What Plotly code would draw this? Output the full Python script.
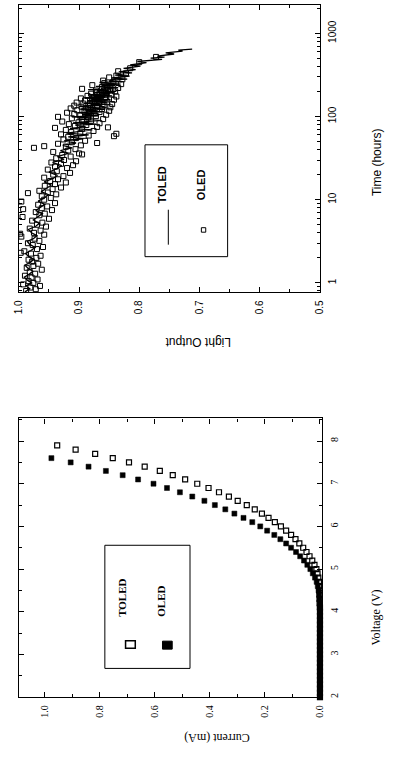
import plotly.graph_objects as go

W, H = 393, 759

# ---------------- Top panel: Light output vs time ----------------
toled_time = [
    0.78, 0.85, 0.92, 1.0, 1.08, 1.17, 1.27, 1.38, 1.5, 1.63,
    1.77, 1.92, 2.08, 2.26, 2.45, 2.66, 2.9, 3.15, 3.4, 3.7,
    4.0, 4.4, 4.8, 5.2, 5.7, 6.2, 6.8, 7.4, 8.1, 8.8,
    9.6, 10.5, 11.5, 12.5, 13.7, 15, 16.4, 18, 19.6, 21.4,
    23.4, 25.6, 28, 30.5, 33, 36, 39, 42, 45, 48,
    51, 54, 57, 60, 63, 66, 69, 72, 75, 78,
    81, 84, 87, 90, 93, 96, 99, 102, 105, 108,
    111, 114, 117, 120, 123, 126, 129, 132, 135, 138,
    141, 144, 147, 150, 153, 156, 159, 162, 165, 168,
    171, 174, 177, 180, 183, 186, 189, 192, 195, 198,
    201, 204, 207, 210, 214, 218, 222, 226, 230, 235,
    240, 245, 250, 256, 262, 268, 275, 282, 290, 298,
    306, 315, 324, 334, 344, 355, 366, 378, 390, 403,
    416, 430, 444, 458, 472, 487, 502, 517, 532, 548,
    564, 580, 596, 612, 628, 645,
]
toled_light = [
    0.990, 0.982, 0.988, 0.979, 0.986, 0.991, 0.983, 0.977, 0.985, 0.990,
    0.981, 0.975, 0.984, 0.989, 0.980, 0.973, 0.982, 0.986, 0.976, 0.970,
    0.979, 0.984, 0.972, 0.966, 0.976, 0.969, 0.961, 0.972, 0.965, 0.957,
    0.968, 0.958, 0.951, 0.963, 0.954, 0.946, 0.958, 0.943, 0.936, 0.950,
    0.938, 0.929, 0.944, 0.925, 0.936, 0.918, 0.931, 0.912, 0.927, 0.905,
    0.925, 0.893, 0.918, 0.884, 0.921, 0.897, 0.878, 0.915, 0.889, 0.906,
    0.872, 0.910, 0.884, 0.866, 0.903, 0.879, 0.912, 0.868, 0.895, 0.874,
    0.901, 0.862, 0.889, 0.870, 0.897, 0.858, 0.884, 0.900, 0.866, 0.881,
    0.855, 0.892, 0.868, 0.850, 0.886, 0.873, 0.848, 0.880, 0.862, 0.891,
    0.852, 0.876, 0.845, 0.869, 0.884, 0.849, 0.866, 0.841, 0.874, 0.857,
    0.838, 0.870, 0.853, 0.885, 0.846, 0.864, 0.835, 0.858, 0.872, 0.840,
    0.862, 0.831, 0.855, 0.866, 0.828, 0.850, 0.842, 0.820, 0.846, 0.833,
    0.816, 0.840, 0.826, 0.812, 0.834, 0.819, 0.806, 0.826, 0.810, 0.798,
    0.815, 0.795, 0.788, 0.803, 0.778, 0.762, 0.781, 0.758, 0.770, 0.748,
    0.742, 0.756, 0.733, 0.728, 0.735, 0.712,
]

oled_time = [
    0.80, 0.84, 0.88, 0.92, 0.96, 1.00, 1.05, 1.10, 1.16, 1.22,
    1.29, 1.36, 1.44, 1.52, 1.60, 1.70, 1.80, 1.90, 2.00, 2.12,
    2.25, 2.40, 2.55, 2.70, 2.85, 3.00, 3.20, 3.40, 3.60, 3.80,
    4.00, 4.25, 4.50, 4.75, 5.00, 5.30, 5.60, 5.90, 6.20, 6.50,
    6.80, 7.10, 7.50, 7.90, 8.30, 8.70, 9.10, 9.50, 10.0, 10.5,
    11.0, 11.6, 12.2, 12.8, 13.4, 14.0, 14.7, 15.4, 16.1, 16.8,
    17.6, 18.4, 19.2, 20.0, 21.0, 22.0, 23.0, 24.0, 25.0, 26.0,
    27, 28, 29, 30, 31.5, 33, 34.5, 36, 37.5, 39,
    40.5, 42, 43.5, 45, 47, 49, 51, 53, 55, 57,
    59, 61, 63, 65, 67, 69, 71, 73, 75, 77,
    79, 81, 83, 85, 87, 89, 91, 93, 95, 97,
    99, 101, 103, 105, 107, 109, 111, 113, 115, 117,
    119, 121, 123, 125, 127, 129, 131, 133, 135, 137,
    139, 141, 143, 145, 147, 150, 153, 156, 159, 162,
    165, 168, 171, 174, 177, 180, 184, 188, 192, 196,
    200, 205, 210, 215, 220, 226, 232, 238, 245, 252,
    260, 270, 280, 295, 310, 330, 350, 380, 450, 520,
    58, 62, 74, 48, 35, 44, 12, 7.7, 3.9, 2.3,
    110, 130, 150, 170, 190, 210, 230, 125, 145, 165,
]
oled_light = [
    0.988, 0.972, 0.981, 0.965, 0.993, 0.976, 0.984, 0.969, 0.979, 0.990,
    0.973, 0.982, 0.962, 0.987, 0.976, 0.968, 0.978, 0.984, 0.971, 0.964,
    0.980, 0.991, 0.970, 0.960, 0.977, 0.985, 0.966, 0.974, 0.996, 0.958,
    0.975, 0.964, 0.982, 0.955, 0.970, 0.961, 0.978, 0.950, 0.994, 0.966,
    0.957, 0.972, 0.945, 0.962, 0.953, 0.968, 0.940, 0.996, 0.958, 0.947,
    0.962, 0.938, 0.952, 0.966, 0.944, 0.930, 0.957, 0.940, 0.922, 0.948,
    0.935, 0.958, 0.926, 0.943, 0.915, 0.937, 0.952, 0.920, 0.940, 0.910,
    0.930, 0.946, 0.905, 0.925, 0.938, 0.914, 0.928, 0.900, 0.943, 0.918,
    0.906, 0.975, 0.922, 0.897, 0.935, 0.912, 0.890, 0.926, 0.905, 0.918,
    0.884, 0.930, 0.898, 0.913, 0.876, 0.922, 0.895, 0.940, 0.870, 0.907,
    0.888, 0.917, 0.866, 0.901, 0.928, 0.880, 0.895, 0.860, 0.912, 0.885,
    0.935, 0.872, 0.898, 0.855, 0.908, 0.883, 0.920, 0.866, 0.891, 0.850,
    0.903, 0.877, 0.862, 0.914, 0.885, 0.848, 0.896, 0.870, 0.908, 0.858,
    0.882, 0.845, 0.893, 0.867, 0.904, 0.853, 0.878, 0.890, 0.842, 0.868,
    0.897, 0.857, 0.875, 0.838, 0.886, 0.862, 0.846, 0.880, 0.855, 0.870,
    0.840, 0.872, 0.852, 0.895, 0.835, 0.862, 0.848, 0.878, 0.830, 0.858,
    0.843, 0.860, 0.828, 0.850, 0.838, 0.822, 0.835, 0.815, 0.800, 0.772,
    0.842, 0.838, 0.852, 0.870, 0.895, 0.958, 0.985, 0.993, 0.998, 0.997,
    0.876, 0.861, 0.873, 0.855, 0.866, 0.848, 0.853, 0.889, 0.882, 0.878,
]
assert len(toled_time) == len(toled_light)
assert len(oled_time) == len(oled_light)

light_ticks = [1.0, 0.9, 0.8, 0.7, 0.6, 0.5]
time_ticks = [1, 10, 100, 1000]

# ---------------- Bottom panel: Current vs voltage ----------------
v_toled = [
    2.0, 2.1, 2.2, 2.3, 2.4, 2.5, 2.6, 2.7, 2.8, 2.9,
    3.0, 3.1, 3.2, 3.3, 3.4, 3.5, 3.6, 3.7, 3.8, 3.9,
    4.0, 4.1, 4.2, 4.3, 4.4, 4.5, 4.6, 4.7, 4.8, 4.9,
    5.0, 5.1, 5.2, 5.3, 5.4, 5.5, 5.6, 5.7, 5.8, 5.9,
    6.0, 6.1, 6.2, 6.3, 6.4, 6.5, 6.6, 6.7, 6.8, 6.9,
    7.0, 7.1, 7.2, 7.3, 7.4, 7.5, 7.6, 7.7, 7.8, 7.9,
]
i_toled = [
    0.000, 0.000, 0.000, 0.000, 0.000, 0.000, 0.000, 0.000, 0.000, 0.000,
    0.000, 0.000, 0.000, 0.000, 0.000, 0.000, 0.000, 0.000, 0.000, 0.000,
    0.000, 0.000, 0.001, 0.001, 0.001, 0.002, 0.003, 0.004, 0.006, 0.009,
    0.013, 0.020, 0.028, 0.038, 0.049, 0.061, 0.075, 0.089, 0.105, 0.123,
    0.142, 0.164, 0.187, 0.211, 0.237, 0.266, 0.299, 0.331, 0.367, 0.405,
    0.446, 0.490, 0.535, 0.582, 0.637, 0.694, 0.753, 0.817, 0.888, 0.955,
]
v_oled = [
    2.0, 2.1, 2.2, 2.3, 2.4, 2.5, 2.6, 2.7, 2.8, 2.9,
    3.0, 3.1, 3.2, 3.3, 3.4, 3.5, 3.6, 3.7, 3.8, 3.9,
    4.0, 4.1, 4.2, 4.3, 4.4, 4.5, 4.6, 4.7, 4.8, 4.9,
    5.0, 5.1, 5.2, 5.3, 5.4, 5.5, 5.6, 5.7, 5.8, 5.9,
    6.0, 6.1, 6.2, 6.3, 6.4, 6.5, 6.6, 6.7, 6.8, 6.9,
    7.0, 7.1, 7.2, 7.3, 7.4, 7.5, 7.6,
]
i_oled = [
    0.000, 0.000, 0.000, 0.000, 0.000, 0.000, 0.000, 0.000, 0.000, 0.000,
    0.000, 0.000, 0.000, 0.000, 0.000, 0.000, 0.000, 0.000, 0.000, 0.000,
    0.000, 0.001, 0.001, 0.002, 0.003, 0.005, 0.008, 0.012, 0.018, 0.026,
    0.035, 0.046, 0.058, 0.072, 0.087, 0.105, 0.123, 0.144, 0.166, 0.192,
    0.217, 0.246, 0.278, 0.311, 0.344, 0.382, 0.420, 0.464, 0.509, 0.556,
    0.605, 0.661, 0.717, 0.778, 0.841, 0.906, 0.976,
]
assert len(v_toled) == len(i_toled)
assert len(v_oled) == len(i_oled)

current_ticks = [1.0, 0.8, 0.6, 0.4, 0.2, 0.0]
voltage_ticks = [2, 3, 4, 5, 6, 7, 8]

# ---------------- Figure ----------------
def px(x):
    return x / W

def py(y):
    return 1 - y / H

SANS = "Liberation Sans, Arial, sans-serif"
SERIF = "Liberation Serif, Times New Roman, serif"

fig = go.Figure()

# Top panel traces (rotated page: light output horizontal, time vertical)
fig.add_trace(go.Scatter(
    x=oled_light, y=oled_time, mode="markers", name="OLED",
    marker=dict(symbol="square-open", size=5, color="black", line=dict(width=1, color="black")),
    xaxis="x", yaxis="y", showlegend=False,
))
fig.add_trace(go.Scatter(
    x=toled_light, y=toled_time, mode="lines", name="TOLED",
    line=dict(color="black", width=1.3),
    xaxis="x", yaxis="y", showlegend=False,
))

# Bottom panel traces
fig.add_trace(go.Scatter(
    x=i_toled, y=v_toled, mode="markers", name="TOLED",
    marker=dict(symbol="square-open", size=5, color="black", line=dict(width=1.2, color="black")),
    xaxis="x2", yaxis="y2", showlegend=False, cliponaxis=False,
))
fig.add_trace(go.Scatter(
    x=i_oled, y=v_oled, mode="markers", name="OLED",
    marker=dict(symbol="square", size=5, color="black", line=dict(width=0.5, color="black")),
    xaxis="x2", yaxis="y2", showlegend=False, cliponaxis=False,
))

axis_common = dict(
    showline=True, linecolor="black", linewidth=1.3, mirror="ticks",
    ticks="inside", ticklen=5, tickwidth=1, tickcolor="black",
    showgrid=False, zeroline=False, tickangle=-90,
)

fig.update_layout(
    width=W, height=H,
    margin=dict(l=0, r=0, t=0, b=0),
    paper_bgcolor="white", plot_bgcolor="white",
    showlegend=False,
    xaxis=dict(
        **axis_common,
        domain=[px(13.3), px(322.7)], anchor="y",
        range=[1.0, 0.5], tickvals=light_ticks, tickformat=".1f",
        minor=dict(ticks="inside", ticklen=3, dtick=0.05, tick0=0.5, tickcolor="black", showgrid=False),
        tickfont=dict(family=SANS, size=10, color="black"),
        ticklabelstandoff=3,
    ),
    yaxis=dict(
        **axis_common,
        type="log",
        domain=[py(292.7), py(5)], anchor="x", side="right",
        range=[-0.113, 3.34], tickvals=time_ticks,
        minor=dict(ticks="inside", ticklen=3, dtick="D1", tickcolor="black", showgrid=False),
        tickfont=dict(family=SANS, size=10, color="black"),
        ticklabelstandoff=3,
    ),
    xaxis2=dict(
        **axis_common,
        domain=[px(13.3), px(325)], anchor="y2",
        range=[1.094, -0.007], tickvals=current_ticks, tickformat=".1f",
        minor=dict(ticks="inside", ticklen=3, dtick=0.1, tick0=0, tickcolor="black", showgrid=False),
        tickfont=dict(family=SERIF, size=10, color="black"),
        ticklabelstandoff=3,
    ),
    yaxis2=dict(
        **axis_common,
        domain=[py(698), py(419)], anchor="x2", side="right",
        range=[2, 8.53], tickvals=voltage_ticks,
        minor=dict(ticks="inside", ticklen=3, dtick=0.5, tick0=2, tickcolor="black", showgrid=False),
        tickfont=dict(family=SERIF, size=10, color="black"),
        ticklabelstandoff=3,
    ),
)

# Axis titles (rotated like the scanned page)
titles = [
    ("Light Output", 197, 343, 180, SANS, 12),
    ("Time (hours)", 381, 162, -90, SANS, 12),
    ("Current (mA)", 217, 739, 180, SERIF, 12),
    ("Voltage (V)", 381, 618, -90, SERIF, 12),
]
for text, x, y, ang, fam, sz in titles:
    fig.add_annotation(
        text=text, x=px(x), y=py(y), xref="paper", yref="paper",
        showarrow=False, textangle=ang, xanchor="center", yanchor="middle",
        font=dict(family=fam, size=sz, color="black"),
    )

# Legend boxes
shapes = [
    dict(type="rect", x0=px(143), x1=px(228), y0=py(257), y1=py(145),
         xref="paper", yref="paper", line=dict(color="black", width=1)),
    dict(type="line", x0=px(167), x1=px(167), y0=py(245), y1=py(210),
         xref="paper", yref="paper", line=dict(color="black", width=1)),
    dict(type="rect", x0=px(201), x1=px(205.5), y0=py(232.5), y1=py(228),
         xref="paper", yref="paper", line=dict(color="black", width=1)),
    dict(type="rect", x0=px(101.7), x1=px(189.3), y0=py(669.3), y1=py(546),
         xref="paper", yref="paper", line=dict(color="black", width=1)),
    dict(type="rect", x0=px(123), x1=px(133), y0=py(649), y1=py(641.5),
         xref="paper", yref="paper", line=dict(color="black", width=1.5)),
    dict(type="rect", x0=px(161), x1=px(171), y0=py(650), y1=py(642),
         xref="paper", yref="paper", line=dict(color="black", width=1), fillcolor="black"),
]
fig.update_layout(shapes=shapes)

legend_texts = [
    ("TOLED", 160, 185, SANS),
    ("OLED", 200, 185, SANS),
    ("TOLED", 120, 599, SERIF),
    ("OLED", 160, 602, SERIF),
]
for text, x, y, fam in legend_texts:
    fig.add_annotation(
        text="<b>%s</b>" % text, x=px(x), y=py(y), xref="paper", yref="paper",
        showarrow=False, textangle=-90, xanchor="center", yanchor="middle",
        font=dict(family=fam, size=11, color="black"),
    )

fig.write_html(
    "out.html",
    config={"displayModeBar": False},
    post_script="document.body.style.margin='0';document.body.style.overflow='hidden';",
)
